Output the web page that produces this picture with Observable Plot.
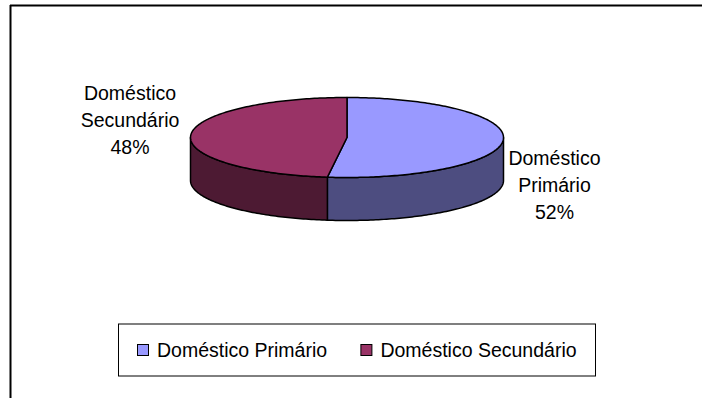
<!DOCTYPE html>
<html>
<head>
<meta charset="utf-8">
<script src="https://cdn.jsdelivr.net/npm/d3@7"></script>
<script src="https://cdn.jsdelivr.net/npm/@observablehq/plot@0.6"></script>
<style>
  html, body { margin: 0; padding: 0; background: #fff; }
  #chart svg { display: block; }
</style>
</head>
<body>
<div id="chart"></div>
<script>
// ---- data ----
const categories = ["Doméstico Primário", "Doméstico Secundário"];
const shares = [52, 48];
const topColors = ["#9999FF", "#993366"];
const sideColors = ["#4D4D80", "#4D1A33"];

// ---- layout ----
const W = 702, H = 398;
const pie = {cx: 346.5, cy: 137, rx: 156.5, ry: 40, depth: 43};
const labelOffset = [[51.3, 43], [-60.8, -17]];
const legend = {x1: 118.5, x2: 595.5, y1: 324, y2: 376, sw: 11, step: 223.4, x0: 137.5, gap: 8};
const font = "'Liberation Sans', Arial, sans-serif";
const fontSize = 19.5;

function pt(theta, dy = 0) {
  return {x: pie.cx + pie.rx * Math.sin(theta), y: pie.cy - pie.ry * Math.cos(theta) + dy};
}
function arc(a, b, dy = 0) {
  const n = Math.max(2, Math.ceil(Math.abs(b - a) / (Math.PI / 180)));
  return d3.range(n + 1).map(k => pt(a + (b - a) * k / n, dy));
}

const total = d3.sum(shares);
let acc = 0;
const slices = shares.map((v, i) => {
  const a0 = acc / total * 2 * Math.PI;
  acc += v;
  const a1 = acc / total * 2 * Math.PI;
  return {i, a0, a1, mid: (a0 + a1) / 2};
});

const marks = [];
// outer chart-area border (top and left visible)
marks.push(Plot.ruleY([5], {x1: 10, x2: W, stroke: "#000", strokeWidth: 2}));
marks.push(Plot.ruleX([10], {y1: 5, y2: H, stroke: "#000", strokeWidth: 2}));

// side walls (front half only)
for (const s of slices) {
  const a = Math.max(s.a0, Math.PI / 2), b = Math.min(s.a1, 3 * Math.PI / 2);
  if (a < b) {
    const poly = [...arc(a, b), ...arc(b, a, pie.depth)];
    poly.push(poly[0]);
    marks.push(Plot.line(poly, {x: "x", y: "y", fill: sideColors[s.i], stroke: "#000", strokeWidth: 1.5, strokeLinejoin: "round"}));
  }
}
// top faces
for (const s of slices) {
  const c = {x: pie.cx, y: pie.cy};
  const poly = [c, ...arc(s.a0, s.a1), c];
  marks.push(Plot.line(poly, {x: "x", y: "y", fill: topColors[s.i], stroke: "#000", strokeWidth: 1.5, strokeLinejoin: "round"}));
}
// data labels
const labels = slices.map(s => {
  const p = pt(s.mid);
  return {
    x: p.x + labelOffset[s.i][0],
    y: p.y + labelOffset[s.i][1],
    text: categories[s.i].split(" ").join("\n") + "\n" + shares[s.i] + "%"
  };
});
marks.push(Plot.text(labels, {x: "x", y: "y", text: "text", fontSize, lineHeight: 27 / fontSize, textAnchor: "middle", lineAnchor: "middle", fill: "#000"}));

// legend
marks.push(Plot.rect([legend], {x1: "x1", x2: "x2", y1: "y1", y2: "y2", fill: "none", stroke: "#000", strokeWidth: 1}));
const legendItems = categories.map((c, i) => {
  const x = legend.x0 + i * legend.step;
  const yc = (legend.y1 + legend.y2) / 2;
  return {c, i, x1: x, x2: x + legend.sw, y1: yc - legend.sw / 2, y2: yc + legend.sw / 2, tx: x + legend.sw + legend.gap, ty: yc, fill: topColors[i]};
});
marks.push(Plot.rect(legendItems, {x1: "x1", x2: "x2", y1: "y1", y2: "y2", fill: "fill", stroke: "#000", strokeWidth: 1}));
marks.push(Plot.text(legendItems, {x: "tx", y: "ty", text: "c", textAnchor: "start", fontSize, fill: "#000"}));

const chart = Plot.plot({
  width: W, height: H,
  margin: 0,
  x: {domain: [0, W], range: [0, W], axis: null},
  y: {domain: [0, H], range: [0, H], axis: null},
  color: {type: "identity"},
  style: {fontFamily: font, background: "#fff", overflow: "visible"},
  marks
});
document.getElementById("chart").appendChild(chart);
</script>
</body>
</html>
